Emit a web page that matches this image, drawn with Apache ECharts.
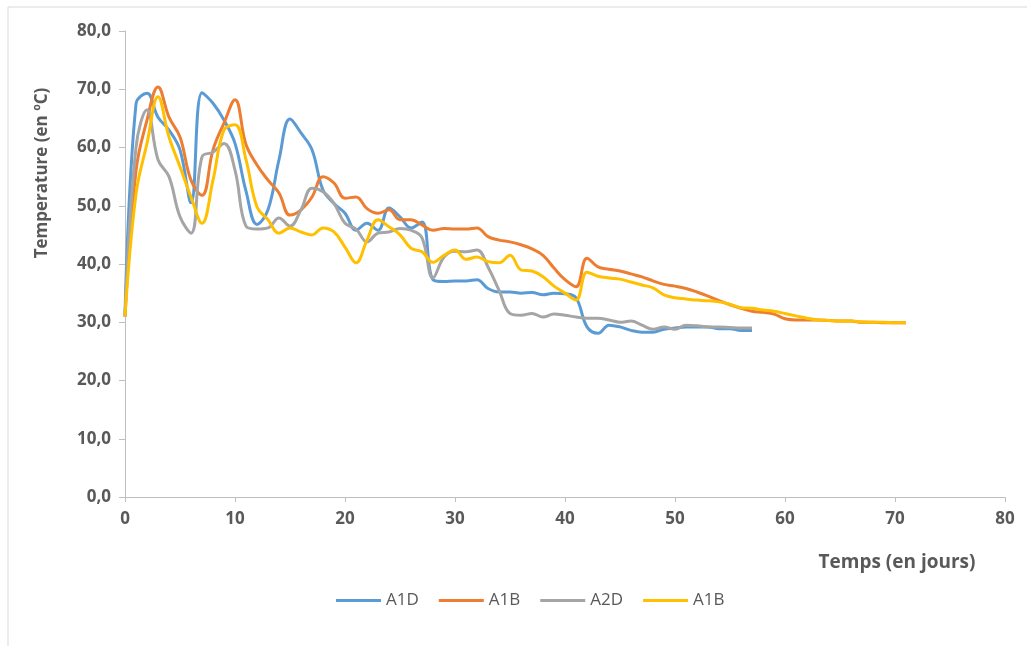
<!DOCTYPE html>
<html>
<head>
<meta charset="utf-8">
<script src="https://cdn.jsdelivr.net/npm/echarts@6/dist/echarts.min.js"></script>
<style>
html,body{margin:0;padding:0;background:#fff;}
#chart{width:1027px;height:646px;}
</style>
</head>
<body>
<div id="chart"></div>
<script>
// Day index = array position (day 0, 1, 2, ...)
const seriesNames = ['A1D', 'A1B', 'A2D', 'A1B'];
const A1D = [31, 67.5, 69.3, 65.2, 63, 59.6, 50.5, 69.4, 67.6, 64.7, 60.7, 52.5, 46.8, 49.3, 57.9, 64.9, 62.5, 59.6, 52.7, 50.4, 48.7, 45.8, 47, 45.8, 49.6, 48.1, 46.2, 47.2, 37.3, 37, 37.1, 37.1, 37.3, 35.8, 35.2, 35.2, 35, 35.1, 34.7, 35, 34.9, 34.2, 29.2, 28.1, 29.5, 29.2, 28.6, 28.3, 28.3, 28.8, 29, 29.2, 29.2, 29.2, 28.9, 28.9, 28.6, 28.6];
const A1B_1 = [31, 56, 64.7, 70.4, 65.2, 61.8, 54.4, 51.8, 59.6, 64.2, 68.2, 60.5, 57, 54.4, 52.2, 48.4, 49.3, 51.5, 55, 53.9, 51.3, 51.5, 49.5, 48.7, 49.3, 47.6, 47.6, 46.7, 45.8, 46.1, 46, 46, 46.2, 44.7, 44.1, 43.8, 43.3, 42.6, 41.5, 39.3, 37.3, 36.1, 41, 39.5, 39.1, 38.8, 38.3, 37.8, 37.1, 36.5, 36.2, 35.8, 35.2, 34.5, 33.7, 33, 32.4, 31.9, 31.7, 31.4, 30.6, 30.4, 30.4, 30.4, 30.3, 30.2, 30.2, 30, 30, 29.9, 29.9, 29.9];
const A2D = [31, 60, 66.5, 57.9, 55, 48.1, 45.3, 58.4, 59.2, 60.7, 56.1, 46.5, 46, 46.2, 47.9, 46.5, 49.3, 53, 52.4, 50.4, 47, 46, 43.8, 45.3, 45.5, 46.1, 45.8, 44.5, 37.6, 41.2, 42.2, 42.1, 42.4, 39.5, 35.5, 31.5, 31.2, 31.5, 30.9, 31.4, 31.2, 30.9, 30.7, 30.7, 30.4, 30, 30.2, 29.5, 28.8, 29.2, 28.8, 29.5, 29.4, 29.2, 29.2, 29.1, 29, 29];
const A1B_2 = [31, 52, 60.7, 68.7, 61.8, 56.7, 51.5, 47, 54.4, 63, 63.9, 57.9, 49.8, 47.6, 45.3, 46.2, 45.5, 45, 46.2, 45.5, 42.9, 40.2, 44.1, 47.6, 46.4, 45, 42.7, 42.1, 40.3, 41.5, 42.4, 40.8, 41.2, 40.4, 40.2, 41.5, 39, 38.8, 37.8, 36.2, 35, 33.8, 38.6, 37.9, 37.6, 37.4, 36.9, 36.4, 35.9, 34.7, 34.2, 34, 33.8, 33.7, 33.5, 33.1, 32.5, 32.4, 32.1, 31.9, 31.5, 31.1, 30.7, 30.4, 30.3, 30.2, 30.2, 30.1, 30, 30, 29.9, 29.9];
const xTitle = 'Temps (en jours)';
const yTitle = 'Temperature (en ºC)';

const colors = ['#5B9BD5', '#ED7D31', '#A5A5A5', '#FFC000'];
const allValues = [A1D, A1B_1, A2D, A1B_2];
// legend needs distinct keys; second A1B gets an invisible trailing space
const keys = ['A1D', 'A1B', 'A2D', 'A1B '];

const chart = echarts.init(document.getElementById('chart'));
const FONT = '"Open Sans"';
chart.setOption({
  animation: false,
  backgroundColor: '#fff',
  textStyle: { fontFamily: FONT },
  graphic: [
    { type: 'rect', shape: { x: 8, y: 7, width: 1100, height: 700 }, style: { fill: 'none', stroke: '#d9d9d9', lineWidth: 1 }, silent: true, z: -10 },
    { type: 'text', x: 42, y: 173, rotation: Math.PI / 2, style: { text: yTitle, fill: '#595959', font: 'bold 17px ' + FONT, align: 'center', verticalAlign: 'middle' } },
    { type: 'text', x: 897, y: 563, style: { text: xTitle, fill: '#595959', font: 'bold 19px ' + FONT, align: 'center', verticalAlign: 'middle' } }
  ],
  grid: { left: 125, right: 22, top: 31, bottom: 149, containLabel: false },
  legend: {
    data: keys,
    bottom: 32,
    left: 331,
    icon: 'rect',
    itemWidth: 45,
    itemHeight: 3,
    itemGap: 20,
    textStyle: { color: '#595959', fontSize: 17, fontFamily: FONT }
  },
  xAxis: {
    type: 'value', min: 0, max: 80, interval: 10,
    axisLine: { show: true, lineStyle: { color: '#bfbfbf', width: 1 } },
    axisTick: { show: true, length: 5, lineStyle: { color: '#bfbfbf' } },
    splitLine: { show: false },
    axisLabel: { color: '#595959', fontSize: 17, fontWeight: 'bold', margin: 14, fontFamily: FONT }
  },
  yAxis: {
    type: 'value', min: 0, max: 80, interval: 10,
    axisLine: { show: true, lineStyle: { color: '#bfbfbf', width: 1 } },
    axisTick: { show: true, length: 6, lineStyle: { color: '#bfbfbf' } },
    splitLine: { show: false },
    axisLabel: { color: '#595959', fontSize: 17, fontWeight: 'bold', margin: 14, fontFamily: FONT,
      formatter: v => v.toFixed(1).replace('.', ',') }
  },
  series: allValues.map((vals, k) => ({
    name: keys[k],
    type: 'line',
    smooth: 0.4,
    showSymbol: false,
    symbol: 'none',
    color: colors[k],
    lineStyle: { width: 3, color: colors[k] },
    data: vals.map((v, i) => [i, v])
  }))
});
</script>
</body>
</html>
